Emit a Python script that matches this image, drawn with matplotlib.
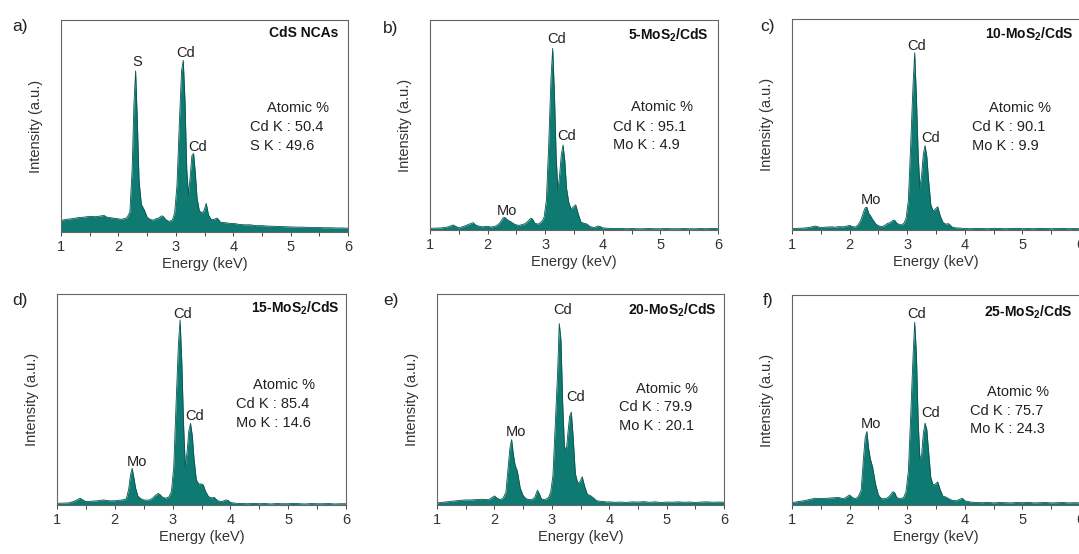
import matplotlib
matplotlib.use('Agg')
import matplotlib.pyplot as plt
from matplotlib.ticker import MultipleLocator

plt.rcParams['font.family'] = ['Liberation Sans', 'DejaVu Sans']
plt.rcParams['mathtext.fontset'] = 'custom'
plt.rcParams['mathtext.rm'] = 'Liberation Sans'
plt.rcParams['mathtext.bf'] = 'Liberation Sans:bold'

# Energy axis (keV), shared by all six spectra
energy = [1.00, 1.10, 1.20, 1.30, 1.40, 1.50, 1.60, 1.70, 1.75, 1.80,
          1.90, 2.00, 2.05, 2.10, 2.15, 2.20, 2.24, 2.27, 2.30, 2.33,
          2.36, 2.40, 2.45, 2.50, 2.55, 2.60, 2.65, 2.70, 2.75, 2.78,
          2.82, 2.88, 2.94, 2.98, 3.02, 3.06, 3.10, 3.13, 3.16, 3.19,
          3.22, 3.25, 3.28, 3.31, 3.34, 3.37, 3.41, 3.45, 3.49, 3.53,
          3.57, 3.62, 3.67, 3.72, 3.78, 3.85, 3.92, 3.96, 4.00, 4.10,
          4.20, 4.30, 4.40, 4.50, 4.60, 4.70, 4.80, 4.90, 5.00, 5.10,
          5.20, 5.30, 5.40, 5.50, 5.60, 5.70, 5.80, 5.90, 6.00]

# Intensities (% of panel height)
cds_nca = [5.5, 6.0, 6.3, 6.8, 7.0, 7.4, 7.2, 7.6, 7.8, 7.0,
           6.6, 6.2, 6.0, 6.3, 6.8, 9.5, 30, 60, 76, 52,
           24, 13, 10.5, 7.0, 6.0, 5.6, 6.2, 6.6, 7.6, 7.4,
           6.0, 5.0, 5.6, 9, 22, 50, 76, 81, 62, 30,
           17.5, 26, 36, 37, 28, 16, 10, 9, 10, 13.5,
           8, 5.8, 6, 6.6, 4.6, 4.4, 4.2, 4.0, 4.1, 3.6,
           3.4, 3.4, 3.0, 3.0, 2.8, 2.7, 2.6, 2.5, 2.4, 2.3,
           2.3, 2.2, 2.1, 2.1, 2.0, 2.0, 1.9, 1.9, 1.8]
mos2_5 = [0.8, 0.9, 1.0, 1.4, 2.4, 1.0, 1.9, 3.0, 3.5, 2.2,
          1.5, 1.8, 1.4, 1.6, 2.0, 3.0, 4.5, 5.8, 6.0, 5.2,
          4.5, 4.0, 3.0, 2.4, 2.2, 2.6, 3.0, 4.2, 5.6, 5.2,
          3.2, 2.8, 4.0, 6.0, 14, 40, 72, 86.5, 65, 35,
          19, 26, 36, 40.5, 33, 20, 13, 10, 11, 12,
          8, 3.8, 3.2, 2.9, 1.6, 1.2, 1.9, 1.6, 1.0, 0.8,
          0.7, 0.8, 0.6, 0.7, 0.6, 0.6, 0.7, 0.6, 0.6, 0.7,
          0.6, 0.6, 0.7, 0.6, 0.6, 0.7, 0.6, 0.8, 0.6]
mos2_10 = [0.6, 0.8, 0.9, 1.2, 1.9, 1.1, 1.4, 1.5, 1.3, 1.6,
           1.5, 2.2, 1.6, 1.4, 2.5, 5.0, 8.5, 10.5, 10.8, 8.0,
           6.8, 5.0, 3.0, 2.0, 1.6, 2.0, 3.0, 3.5, 4.5, 4.7,
           3.2, 2.4, 3.0, 5.5, 14, 40, 68, 84, 63, 36,
           20, 26, 36, 40, 35, 24, 12, 9, 10, 11,
           7, 3.6, 2.8, 3.0, 1.4, 1.0, 0.9, 0.8, 0.7, 0.6,
           0.8, 0.7, 0.6, 0.8, 0.7, 0.6, 0.7, 0.8, 0.6, 0.7,
           0.6, 0.8, 0.7, 0.6, 0.7, 0.8, 0.6, 0.7, 0.6]
mos2_15 = [0.8, 0.9, 1.0, 1.8, 3.2, 1.6, 1.8, 2.0, 2.2, 2.4,
           2.0, 2.0, 2.2, 2.3, 2.5, 3.0, 7.5, 14, 17.4, 13,
           8, 4.2, 3.0, 2.4, 2.3, 2.4, 3.2, 4.5, 5.5, 5.0,
           3.8, 3.2, 4.0, 6.5, 18, 48, 76, 87.7, 67, 38,
           18, 25, 35, 38.7, 33, 22, 12, 10, 10, 9.5,
           6.5, 4.0, 3.4, 3.6, 2.0, 1.6, 2.4, 2.2, 1.2, 0.8,
           0.7, 0.6, 0.8, 0.6, 0.7, 0.5, 0.7, 0.6, 0.6, 0.8,
           0.6, 0.5, 0.7, 0.6, 0.6, 0.7, 0.5, 0.6, 0.6]
mos2_20 = [1.0, 1.3, 1.6, 1.9, 2.2, 2.4, 2.4, 2.6, 2.7, 2.7,
           2.5, 4.3, 3.2, 2.6, 3.2, 6.0, 18, 27, 31, 24,
           19, 16, 8, 4.5, 3.0, 2.6, 2.5, 3.5, 7.0, 5.5,
           2.8, 2.5, 3.5, 6.0, 14, 38, 62, 86, 78, 48,
           28, 25, 34, 42, 44, 33, 15, 10.5, 11, 13.4,
           9.0, 5.0, 4.5, 3.5, 2.0, 1.8, 1.6, 1.4, 1.5, 1.3,
           1.4, 1.2, 1.5, 1.4, 1.6, 1.3, 1.5, 1.2, 1.4, 1.3,
           1.5, 1.3, 1.4, 1.2, 1.4, 1.5, 1.3, 1.4, 1.3]
mos2_25 = [1.1, 1.6, 2.0, 2.6, 3.2, 3.1, 3.2, 3.4, 3.5, 3.6,
           3.0, 4.8, 3.5, 3.0, 4.0, 7.0, 22, 32, 35, 27,
           22, 18, 10, 4.8, 3.0, 3.0, 3.3, 4.5, 6.3, 6.0,
           3.5, 3.0, 3.6, 6.5, 16, 42, 70, 87, 72, 40,
           22, 24, 34, 39, 36, 26, 13, 9.5, 10, 11,
           7.5, 4.2, 3.8, 3.0, 2.2, 2.0, 2.8, 3.2, 2.0, 1.4,
           1.2, 1.1, 1.3, 1.0, 1.2, 1.1, 1.0, 1.2, 1.1, 1.3,
           1.0, 1.1, 1.2, 1.0, 1.1, 1.2, 1.0, 1.1, 1.0]

panel_letters = ['a)', 'b)', 'c)', 'd)', 'e)', 'f)']
sample_names = ['CdS NCAs', r'5-MoS$_\mathbf{2}$/CdS', r'10-MoS$_\mathbf{2}$/CdS',
                r'15-MoS$_\mathbf{2}$/CdS', r'20-MoS$_\mathbf{2}$/CdS', r'25-MoS$_\mathbf{2}$/CdS']
cd_percent = ['50.4', '95.1', '90.1', '85.4', '79.9', '75.7']
second_element = ['S K', 'Mo K', 'Mo K', 'Mo K', 'Mo K', 'Mo K']
second_percent = ['49.6', '4.9', '9.9', '14.6', '20.1', '24.3']
spectra = [cds_nca, mos2_5, mos2_10, mos2_15, mos2_20, mos2_25]

# peak labels: (text, x, y)
peak_labels = [
    [('S', 2.33, 80), ('Cd', 3.17, 84.3), ('Cd', 3.38, 40)],
    [('Mo', 2.34, 9.2), ('Cd', 3.20, 90.8), ('Cd', 3.38, 44.8)],
    [('Mo', 2.37, 14.2), ('Cd', 3.17, 87), ('Cd', 3.40, 43.5)],
    [('Mo', 2.38, 20.2), ('Cd', 3.17, 90.5), ('Cd', 3.38, 42.2)],
    [('Mo', 2.37, 34.4), ('Cd', 3.19, 92.4), ('Cd', 3.42, 51)],
    [('Mo', 2.37, 38.6), ('Cd', 3.17, 91), ('Cd', 3.40, 44)],
]

# atomic % block: (x of "Atomic %" centre, y, x of left edge of lines, y line 2, y line 3)
atomic_pos = [(5.13, 58.4, 4.29, 49.3, 40.7),
              (5.02, 58.7, 4.18, 49.2, 40.5),
              (4.96, 57.8, 4.12, 48.6, 39.9),
              (4.92, 56.9, 4.10, 47.7, 38.7),
              (5.01, 55.0, 4.17, 46.3, 37.4),
              (4.92, 54.0, 4.09, 44.8, 36.0)]
title_pos = [(5.83, 93.7), (5.84, 92.9), (5.88, 92.6), (5.88, 93.2), (5.86, 92.1), (5.87, 91.6)]

W, H = 1079, 554
# axes boxes in pixels: left, top, right, bottom
boxes = [(61, 20, 348, 232), (430, 20, 718, 230), (792, 19, 1080, 230),
         (57, 294, 346, 505), (437, 294, 724, 505), (792, 295, 1080, 505)]
letter_pos = [(12, 27), (383, 28), (760, 27), (12, 301), (383, 300), (763, 301)]

teal = '#0f7a72'
edge = '#075550'

fig = plt.figure(figsize=(W / 100, H / 100), dpi=100)

for i in range(6):
    l, t, r, b = boxes[i]
    ax = fig.add_axes([l / W, 1 - b / H, (r - l) / W, (b - t) / H])
    ax.fill_between(energy, spectra[i], 0, color=teal, lw=0)
    ax.plot(energy, spectra[i], color=edge, lw=0.6)
    ax.set_xlim(1, 6)
    ax.set_ylim(0, 100)
    ax.set_yticks([])
    ax.xaxis.set_major_locator(MultipleLocator(1))
    ax.xaxis.set_minor_locator(MultipleLocator(0.5))
    ax.tick_params(axis='x', which='both', direction='out', length=3, width=0.7,
                   color='#444444', pad=3, labelsize=10.5, labelcolor='#333333')
    for sp in ax.spines.values():
        sp.set_color('#666666')
        sp.set_linewidth(0.8)
    ax.set_xlabel('Energy (keV)', fontsize=10.5, labelpad=2, color='#333333')
    ax.set_ylabel('Intensity (a.u.)', fontsize=10.5, labelpad=13, color='#333333')

    for txt, px, py in peak_labels[i]:
        ax.text(px, py, txt, ha='center', va='center', fontsize=10.5, color='#222222')

    ax.text(title_pos[i][0], title_pos[i][1], sample_names[i], ha='right', va='center',
            fontsize=10, fontweight='bold', color='#111111')

    cx, cy, lx, y2, y3 = atomic_pos[i]
    ax.text(cx, cy, 'Atomic %', ha='center', va='center', fontsize=10.5, color='#222222')
    ax.text(lx, y2, 'Cd K : ' + cd_percent[i], ha='left', va='center', fontsize=10.5, color='#222222')
    ax.text(lx, y3, second_element[i] + ' : ' + second_percent[i], ha='left', va='center',
            fontsize=10.5, color='#222222')

    fig.text(letter_pos[i][0] / W, 1 - letter_pos[i][1] / H, panel_letters[i],
             ha='left', va='center', fontsize=12.5, color='#222222')

fig.savefig('out.png', dpi=100)
